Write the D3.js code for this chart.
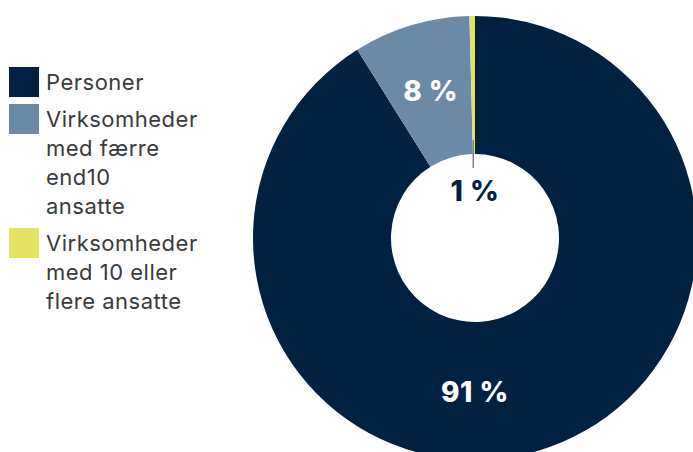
<!DOCTYPE html>
<html>
<head>
<meta charset="utf-8">
<script src="https://cdn.jsdelivr.net/npm/d3@7"></script>
<style>
  body { margin: 0; background: #fff; }
  svg { display: block; }
</style>
</head>
<body>
<script>
let width = 693,
    height = 452;

// data
let categories = ["Personer", "Virksomheder med færre end10 ansatte", "Virksomheder med 10 eller flere ansatte"];
let shares = [91.1, 8.5, 0.4];
let labels = ["91 %", "8 %", "1 %"];
let legendLines = [["Personer"], ["Virksomheder", "med færre", "end10", "ansatte"], ["Virksomheder", "med 10 eller", "flere ansatte"]];

let colors = d3.scaleOrdinal()
               .domain(categories)
               .range(["#012143", "#6a8aa8", "#e3e363"]);

let svg = d3.select("body")
            .append("svg")
            .attr("width", width)
            .attr("height", height);

let cx = 475, cy = 238,
    outerR = 222, innerR = 84;

let pie = d3.pie().sort(null).value(function(d) { return d; });
let arcs = pie(shares);

let arc = d3.arc().innerRadius(innerR).outerRadius(outerR);

let donut = svg.append("g")
               .attr("transform", "translate(" + cx + "," + cy + ")");

donut.selectAll("path")
     .data(arcs)
     .enter()
     .append("path")
     .attr("d", arc)
     .attr("fill", function(d, i) { return colors(categories[i]); });

// labels for the two big slices, inside the ring
let labelR = 154;
donut.selectAll("text.big")
     .data(arcs.slice(0, 2))
     .enter()
     .append("text")
     .attr("class", "big")
     .attr("x", function(d, i) {
         let a = i == 0 ? Math.PI : (d.startAngle + d.endAngle) / 2;
         return labelR * Math.sin(a);
     })
     .attr("y", function(d, i) {
         let a = i == 0 ? Math.PI : (d.startAngle + d.endAngle) / 2;
         return -labelR * Math.cos(a) + 10;
     })
     .attr("text-anchor", "middle")
     .attr("font-family", "Inter, 'DejaVu Sans', sans-serif")
     .attr("font-weight", 800)
     .attr("font-size", 28)
     .attr("letter-spacing", 0.5)
     .attr("fill", "#fff")
     .text(function(d, i) { return labels[i]; });

// small slice: leader line into the hole
let small = arcs[2];
let mid = (small.startAngle + small.endAngle) / 2;
donut.append("line")
     .attr("x1", (innerR + 14) * Math.sin(mid) - 0.5)
     .attr("y1", -(innerR + 14) * Math.cos(mid))
     .attr("x2", (innerR + 14) * Math.sin(mid) - 0.5)
     .attr("y2", -innerR + 14)
     .attr("stroke", "#808080")
     .attr("stroke-width", 1.5);

donut.append("text")
     .attr("x", 0)
     .attr("y", -37)
     .attr("text-anchor", "middle")
     .attr("font-family", "Inter, 'DejaVu Sans', sans-serif")
     .attr("font-weight", 800)
     .attr("font-size", 28)
     .attr("letter-spacing", 0.5)
     .attr("fill", "#012143")
     .text(labels[2]);

// legend
let legendTop = [67, 104, 228];
let legend = svg.selectAll("g.legend")
                .data(categories)
                .enter()
                .append("g")
                .attr("class", "legend")
                .attr("transform", function(d, i) { return "translate(9," + legendTop[i] + ")"; });

legend.append("rect")
      .attr("width", 30)
      .attr("height", 30)
      .attr("fill", function(d) { return colors(d); });

legend.append("text")
      .attr("font-family", "Inter, 'DejaVu Sans', sans-serif")
      .attr("font-size", 22)
      .attr("letter-spacing", 0.5)
      .attr("fill", "#3a3a3a")
      .selectAll("tspan")
      .data(function(d, i) { return legendLines[i]; })
      .enter()
      .append("tspan")
      .attr("x", 37)
      .attr("y", function(d, j) { return 23 + j * 29; })
      .text(function(d) { return d; });
</script>
</body>
</html>
